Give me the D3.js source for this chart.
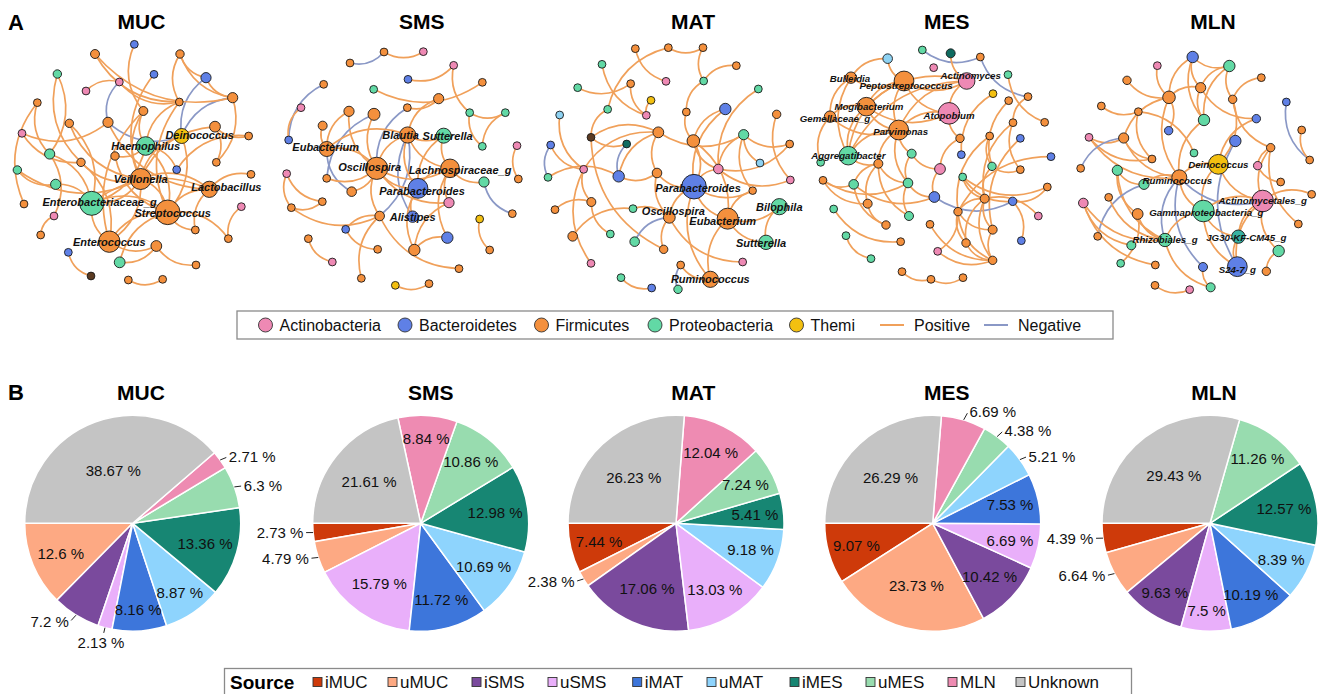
<!DOCTYPE html>
<html>
<head>
<meta charset="utf-8">
<script src="https://cdn.jsdelivr.net/npm/d3@7"></script>
<style>
  body { margin: 0; background: #fff; }
  svg { display: block; }
  text { font-family: "Liberation Sans", Arial, Helvetica, sans-serif; }
</style>
</head>
<body>
<svg id="fig" width="1320" height="694"></svg>
<script>
// ---------------- Panel A data: co-occurrence networks ----------------
// node: [layoutX, layoutY, phylum code, degree, label]
// layout units: 0..810 horizontally, 0..900 vertically within each panel
const mucNodes = [
  [403,133,"B",1],[285,162,"F",2],[540,162,"F",1.5],[172,222,"P",1.5],[462,223,"B",1],
  [618,233,"B",3],[358,246,"A",1],[258,273,"A",1],[698,293,"F",3],[112,308,"F",1],
  [538,306,"F",1],[430,333,"F",2],[324,367,"F",3],[208,370,"F",1.5],[645,380,"F",3.5],
  [66,400,"A",1],[545,408,"T",7,"Deinococcus"],[746,408,"F",1],[437,438,"P",10,"Haemophilus"],[149,462,"P",3],
  [345,468,"F",1.5],[243,487,"F",1.5],[649,487,"F",1],[52,510,"P",1.5],[530,509,"B",1],
  [422,537,"F",12,"Veillonella"],[753,523,"F",1],[167,553,"P",3],[628,568,"F",8,"Lactobacillus"],[275,610,"P",14.5,"Enterobacteriaceae_g"],
  [72,612,"F",1],[724,620,"A",1],[503,637,"F",15,"Streptococcus"],[162,648,"A",1],[586,690,"F",1],
  [122,705,"F",1],[685,716,"F",1],[328,725,"F",12.3,"Enterococcus"],[469,738,"F",3.5],[205,757,"B",1],
  [359,787,"P",3.5],[588,795,"F",1],[273,828,"Te",1],[385,840,"F",1],[488,838,"F",1]
];
// edge: [node, node, sign]
const mucEdges = [
  [1,12,1],[2,11,1],[3,9,1],[3,6,1],[6,9,1],[6,17,-1],[9,17,-1],[7,8,1],[7,13,-1],[7,11,1],
  [13,17,-1],[4,22,1],[10,31,1],[16,13,1],[16,22,1],[24,28,1],[24,26,1],[14,26,1],[15,18,1],[15,26,1],
  [18,25,1],[23,9,1],[27,29,1],[32,37,1],[29,33,1],[29,26,1],[29,30,1],[29,35,1],[33,30,1],[33,26,1],
  [33,38,1],[33,19,1],[33,17,1],[33,41,1],[33,35,1],[30,26,1],[30,19,1],[30,38,1],[30,28,1],[30,20,1],
  [30,14,1],[38,26,1],[38,39,1],[38,22,1],[34,36,1],[34,20,1],[40,43,1],[44,45,1],[41,39,1],[39,42,1],
  [21,19,1],[21,33,1],[22,26,1],[12,26,1],[12,19,1],[12,38,1],[11,33,1],[11,19,1],[5,26,1],[20,4,1],
  [25,19,1],[37,33,1],[3,11,1],[2,9,1],[10,20,1],[13,29,1],[17,26,1],[23,15,1]
];

const smsNodes = [
  [372,156,"F",1],[490,155,"A",1],[270,189,"F",1],[581,196,"A",1],[444,238,"B",1],
  [191,253,"F",1],[667,247,"F",1],[341,268,"P",1],[536,296,"F",3],[123,323,"A",1],
  [442,323,"F",1],[267,334,"F",3],[342,343,"F",4.5],[629,338,"P",1],[736,338,"P",1],
  [188,377,"F",2],[443,405,"F",8,"Blautia"],[551,407,"P",7,"Sutterella"],[86,420,"B",1],[667,439,"P",1],
  [771,437,"A",1],[200,447,"F",7,"Eubacterium"],[350,505,"F",13,"Oscillospira"],[570,505,"F",10,"Lachnospiraceae_g"],[80,521,"A",1],
  [200,535,"F",1],[474,565,"B",11,"Parabacteroides"],[672,546,"P",3],[775,537,"F",1],[275,575,"F",2.5],
  [187,605,"F",1],[567,608,"A",3],[94,623,"F",1],[458,650,"B",4,"Alistipes"],[359,648,"F",2.5],
  [757,641,"F",1],[659,657,"T",1],[257,688,"B",1],[562,713,"B",4],[145,716,"F",1],
  [463,750,"F",4],[353,748,"F",1],[689,750,"F",1],[217,786,"A",1],[597,806,"F",1],
  [304,835,"F",1],[406,856,"T",1],[507,851,"F",1]
];
const smsEdges = [
  [3,1,-1],[1,2,1],[5,4,1],[4,14,1],[8,7,1],[11,9,1],[6,19,-1],[10,19,1],[14,15,1],[15,20,1],
  [14,20,1],[12,23,1],[13,26,-1],[11,23,-1],[17,34,-1],[35,17,-1],[22,30,-1],[9,17,1],[16,22,1],[17,18,1],
  [17,23,1],[17,24,1],[17,27,1],[17,22,1],[18,24,1],[18,27,1],[23,27,1],[23,24,1],[23,22,1],[23,32,1],
  [23,35,1],[24,27,1],[24,28,1],[24,32,1],[28,36,-1],[21,29,1],[25,33,1],[25,31,1],[33,31,1],[33,35,1],
  [38,42,1],[40,44,1],[35,45,1],[35,46,1],[32,41,1],[39,41,1],[27,41,1],[37,43,1],[47,48,1],[26,23,1],
  [27,34,1],[13,23,1],[12,22,1],[30,23,1],[35,38,1],[24,39,1]
];

const matNodes = [
  [316,146,"F",1],[415,143,"F",1],[519,143,"F",1],[216,193,"P",1],[619,197,"F",1],
  [302,251,"F",1],[408,244,"A",1],[521,243,"P",1],[143,263,"P",1],[685,267,"P",1],
  [363,301,"T",1],[233,328,"P",1],[349,346,"A",1],[469,336,"F",1],[586,327,"B",4],
  [89,345,"C",1],[740,343,"F",1.5],[385,397,"F",3.5],[183,412,"Te",1],[490,423,"F",5],
  [641,404,"P",3],[290,432,"V",1],[62,435,"B",1],[779,432,"F",1],[690,489,"C",1],
  [161,508,"A",1],[565,507,"A",2.5],[266,529,"B",4],[381,519,"F",2.5],[54,532,"P",1],
  [781,540,"A",1],[492,560,"B",15,"Parabacteroides"],[668,572,"F",0.8],[184,606,"F",2],[75,629,"F",1],
  [309,626,"P",1],[748,620,"P",8,"Bilophila"],[418,652,"F",4.3,"Oscillospira"],[593,656,"F",12,"Eubacterium"],[128,709,"F",2.5],
  [241,702,"P",1],[708,727,"P",6.5,"Sutterella"],[314,725,"P",2.5],[401,748,"F",1.5],[183,790,"A",1],
  [638,786,"A",1],[452,795,"F",1],[541,838,"F",8,"Ruminococcus"],[273,833,"P",1],[365,864,"B",1],
  [444,868,"P",1.5]
];
const matEdges = [
  [1,7,1],[2,3,1],[2,12,1],[3,8,1],[4,13,1],[9,6,1],[5,8,1],[8,14,1],[10,27,1],[11,13,1],
  [14,20,1],[15,20,1],[15,32,1],[16,26,1],[17,31,1],[18,19,1],[18,28,1],[18,29,1],[18,21,1],[18,26,1],
  [19,22,1],[19,44,1],[21,27,1],[21,24,1],[21,33,1],[21,25,1],[22,28,-1],[23,30,-1],[23,26,1],[28,29,1],
  [28,30,1],[27,32,1],[27,24,1],[29,32,1],[29,38,1],[32,39,1],[32,38,1],[32,20,1],[32,48,1],[38,43,-1],
  [47,51,-1],[38,36,1],[38,44,1],[38,46,1],[39,37,1],[39,42,1],[39,48,1],[39,20,1],[37,42,1],[34,35,1],
  [36,40,1],[49,50,1],[47,48,1],[26,34,1],[26,45,1],[12,19,1],[6,13,1],[20,27,1],[32,33,1],[27,31,1],
  [34,41,1],[33,39,1]
];

const mesNodes = [
  [397,150,"P",1],[482,160,"V",2],[571,171,"F",1],[293,176,"C",2.5],[431,203,"A",1],
  [183,233,"F",4,"Bulleidia"],[342,243,"F",11,"Peptostreptococcus"],[530,243,"A",8.3,"Actinomyces"],[654,224,"P",1],[609,281,"T",1],
  [714,290,"F",1],[656,302,"F",1],[229,320,"F",10,"Mogibacterium"],[120,350,"F",4,"Gemellaceae_g"],[477,340,"A",12.5,"Atopobium"],
  [326,390,"F",11,"Parvimonas"],[669,368,"F",1],[764,367,"F",1],[510,415,"F",1.5],[599,408,"F",1],
  [691,415,"B",1],[175,467,"P",10,"Aggregatibacter"],[365,461,"P",2],[514,464,"B",1],[783,470,"B",1],
  [92,487,"P",1],[265,491,"F",2],[450,507,"A",3.5],[606,499,"P",1.5],[691,509,"F",1],
  [518,531,"P",1],[99,541,"F",1],[191,553,"P",2.5],[354,549,"P",2.5],[772,561,"F",1],
  [433,591,"B",3.5],[584,596,"F",2],[233,611,"F",2],[668,604,"B",1.5],[131,627,"P",1],
  [504,635,"F",1.5],[357,648,"P",2],[745,648,"A",1],[288,675,"F",1.5],[420,673,"F",1],
  [608,689,"F",2],[168,707,"P",1],[332,725,"F",1],[528,729,"F",1.5],[694,722,"B",1],
  [443,754,"A",1],[243,776,"P",1],[608,781,"F",1.5],[336,815,"F",1],[423,838,"F",1],
  [519,833,"F",1]
];
const mesEdges = [
  [1,3,-1],[3,11,-1],[2,8,1],[4,6,1],[4,7,1],[6,14,1],[6,22,1],[6,7,1],[7,8,1],[7,13,1],
  [7,16,1],[7,15,1],[7,22,1],[8,13,1],[8,16,1],[8,15,1],[8,22,1],[13,16,1],[13,15,1],[13,14,1],
  [13,22,1],[14,16,1],[14,26,1],[15,16,1],[15,19,1],[16,22,1],[16,27,1],[16,23,1],[16,34,1],[9,18,1],
  [10,24,1],[12,29,1],[17,37,1],[17,30,1],[20,29,1],[20,41,1],[21,46,1],[23,28,1],[23,34,1],[25,41,1],
  [27,33,1],[27,38,1],[27,34,1],[27,42,1],[28,36,1],[29,30,1],[29,37,1],[31,39,1],[31,35,1],[32,33,1],
  [32,34,1],[32,38,1],[33,36,1],[33,44,1],[34,36,1],[34,42,1],[36,39,-1],[37,41,1],[37,46,1],[37,49,1],
  [37,53,1],[41,46,1],[41,53,1],[41,49,1],[45,53,1],[46,53,1],[49,53,1],[51,53,1],[54,55,1],[55,56,1],
  [38,44,1],[47,52,1],[40,48,1],[39,35,1],[43,37,1],[19,28,1],[22,27,1],[31,37,1],[11,17,1],[51,41,1],
  [50,39,1]
];

const mlnNodes = [
  [428,171,"B",4],[538,198,"P",4],[322,197,"A",1],[634,233,"F",1],[231,241,"F",1.5],
  [452,263,"F",3],[357,292,"F",5],[548,298,"F",1.5],[154,318,"F",1],[709,306,"B",1],
  [265,335,"F",1],[619,356,"B",1.5],[462,360,"P",4],[356,392,"B",1.5],[755,390,"F",1],
  [117,412,"A",1],[221,414,"F",3],[556,423,"B",4],[662,443,"F",1.5],[432,459,"P",1],
  [306,477,"F",1],[505,493,"T",11,"Deinococcus"],[623,497,"A",1.5],[779,480,"F",1],[92,505,"F",1],
  [202,511,"P",3],[388,532,"F",7,"Ruminococcus"],[692,546,"F",1],[282,553,"P",3],[176,592,"F",1],
  [785,583,"F",1],[100,609,"A",2.5],[638,603,"A",12.5,"Actinomycetales_g"],[263,642,"F",3.5],[460,633,"P",12.5,"Gammaproteobacteria_g"],
  [745,672,"F",1],[143,709,"F",1],[565,710,"Ch",5.6,"JG30-KF-CM45_g"],[244,736,"P",2],[345,720,"P",5.6,"Rhizobiales_g"],
  [686,753,"P",4],[212,790,"P",1],[562,800,"B",11,"S24-7_g"],[316,795,"F",1],[459,801,"B",2],
  [649,814,"F",1.5],[315,856,"F",1],[419,869,"A",1],[482,862,"P",2]
];
const mlnEdges = [
  [1,2,1],[1,6,1],[1,7,1],[1,13,1],[2,6,1],[2,8,1],[2,13,1],[3,7,1],[4,8,1],[5,7,1],
  [6,7,1],[6,12,1],[6,13,1],[7,17,1],[7,27,1],[8,19,1],[9,11,1],[11,21,1],[10,24,-1],[15,24,1],
  [16,17,1],[16,21,1],[16,27,1],[17,21,1],[17,27,1],[17,25,-1],[18,43,-1],[19,23,1],[19,36,1],[19,33,1],
  [20,11,1],[22,27,1],[22,35,1],[22,33,1],[23,28,1],[26,40,1],[26,34,1],[27,29,1],[27,35,1],[27,40,-1],
  [27,45,-1],[27,33,-1],[29,37,-1],[31,33,1],[32,40,1],[32,39,1],[32,44,1],[33,35,1],[33,38,1],[33,43,1],
  [35,38,1],[35,43,1],[35,40,1],[38,43,1],[41,46,1],[42,34,1],[47,48,1],[45,49,1],[40,49,1],[22,8,1],
  [13,27,1],[34,40,1],[30,40,1],[14,7,1],[12,22,1],[33,41,1],[26,29,1]
];

const networkSites = ["MUC","SMS","MAT","MES","MLN"];
const networkNodes = [mucNodes, smsNodes, matNodes, mesNodes, mlnNodes];
const networkEdges = [mucEdges, smsEdges, matEdges, mesEdges, mlnEdges];

const phylumLegend = ["Actinobacteria","Bacteroidetes","Firmicutes","Proteobacteria","Themi"];
const phylumCode = {A:"Actinobacteria", B:"Bacteroidetes", F:"Firmicutes", P:"Proteobacteria", T:"Themi",
                    Te:"Tenericutes", V:"Verrucomicrobia", C:"Cyanobacteria", Ch:"Chloroflexi"};

// ---------------- Panel B data: source composition ----------------
const sources = ["iMUC","uMUC","iSMS","uSMS","iMAT","uMAT","iMES","uMES","MLN","Unknown"];
const pieSites = ["MUC","SMS","MAT","MES","MLN"];
const mucShares = [0, 12.6, 7.2, 2.13, 8.16, 8.87, 13.36, 6.3, 2.71, 38.67];
const smsShares = [2.73, 4.79, 0, 15.79, 11.72, 10.69, 12.98, 10.86, 8.84, 21.61];
const matShares = [7.44, 2.38, 17.06, 13.03, 0, 9.18, 5.41, 7.24, 12.04, 26.23];
const mesShares = [9.07, 23.73, 10.42, 6.69, 7.53, 5.21, 0, 4.38, 6.69, 26.29];
const mlnShares = [4.39, 6.64, 9.63, 7.5, 10.19, 8.39, 12.57, 11.26, 0, 29.43];
const pieShares = [mucShares, smsShares, matShares, mesShares, mlnShares];

// ---------------- styling ----------------
const phylumColor = {
  Actinobacteria:"#EE89B4", Bacteroidetes:"#5F80E6", Firmicutes:"#F4903D", Proteobacteria:"#62D9A5",
  Themi:"#F3C010", Tenericutes:"#5C3B22", Verrucomicrobia:"#0F6B60", Cyanobacteria:"#8ED2F2", Chloroflexi:"#38B2A2"
};
const edgeColor = {pos:"#F0A05A", neg:"#8A98C6"};
const sourceColor = d3.scaleOrdinal().domain(sources).range(
  ["#CE3A0A","#FDA983","#7A4A9D","#E9AFFA","#3D76DB","#8ED4FD","#178673","#98DCAF","#EE8BB2","#C4C4C4"]);

// small label shifts so neighbouring taxon names stay readable (pixels)
const labelNudge = {
  "MUC/Deinococcus":[18,-1], "MUC/Lactobacillus":[17,-2.5], "MUC/Enterobacteriaceae_g":[8,-1.5], "MUC/Streptococcus":[5,0.5],
  "SMS/Blautia":[-7,0], "SMS/Sutterella":[4,0], "SMS/Oscillospira":[-7,-1], "SMS/Lachnospiraceae_g":[10,1.5],
  "SMS/Parabacteroides":[4,2.5], "SMS/Eubacterium":[-1,-2],
  "MAT/Parabacteroides":[4,1.5], "MAT/Oscillospira":[4,-6.5], "MAT/Eubacterium":[-5,2], "MAT/Sutterella":[-5,1],
  "MES/Peptostreptococcus":[2,5], "MES/Actinomyces":[4,-5], "MES/Gemellaceae_g":[5,2], "MES/Mogibacterium":[2.5,0],
  "MES/Parvimonas":[2,2], "MES/Atopobium":[0,2], "MES/Bulleidia":[-1,1],
  "MLN/JG30-KF-CM45_g":[8,0.5], "MLN/Ruminococcus":[-2,3.5], "MLN/Gammaproteobacteria_g":[3,2], "MLN/S24-7_g":[0,2.5]
};

// labels drawn outside the pie (small or steep slices)
const outsideLabels = {
  MUC:["MLN","uMES","iSMS","uSMS"], SMS:["iMUC","uMUC"], MAT:["uMUC"],
  MES:["MLN","uMES","uMAT"], MLN:["iMUC","uMUC"]
};

const svg = d3.select("#fig");

// panel letters
svg.append("text").attr("x", 8).attr("y", 30).attr("font-size", 22).attr("font-weight", "bold").text("A");
svg.append("text").attr("x", 8).attr("y", 400).attr("font-size", 22).attr("font-weight", "bold").text("B");

// ---------------- networks ----------------
const panelX0 = [0, 260, 530, 790, 1050];
const netTitleX = [141.5, 421.7, 693, 946.7, 1213];
const netLabelSize = [11, 11, 11, 9.7, 9.7];
const radius = d3.scaleLinear().domain([0, 15]).range([3.3, 12.3]);

function arcPath(s, t) {
  const mx = (s.x + t.x) / 2, my = (s.y + t.y) / 2;
  const dx = t.x - s.x, dy = t.y - s.y, k = 0.3;
  return `M${s.x},${s.y}Q${mx - dy * k},${my + dx * k} ${t.x},${t.y}`;
}

networkSites.forEach((site, p) => {
  const x = d3.scaleLinear().domain([0, 810]).range([panelX0[p], panelX0[p] + 270]);
  const y = d3.scaleLinear().domain([0, 900]).range([0, 300]);
  const nodes = networkNodes[p].map(d => ({
    x: x(d[0]), y: y(d[1]), phylum: phylumCode[d[2]], deg: d[3], label: d[4] || null
  }));
  const links = networkEdges[p].map(e => ({s: nodes[e[0] - 1], t: nodes[e[1] - 1], sign: e[2]}));
  const g = svg.append("g");

  svg.append("text").attr("x", netTitleX[p]).attr("y", 28.5).attr("text-anchor", "middle")
    .attr("font-size", 21).attr("font-weight", "bold").text(site);

  g.append("g").selectAll("path").data(links).join("path")
    .attr("d", l => arcPath(l.s, l.t))
    .attr("fill", "none")
    .attr("stroke", l => l.sign > 0 ? edgeColor.pos : edgeColor.neg)
    .attr("stroke-width", 1.7);

  g.append("g").selectAll("circle").data(nodes).join("circle")
    .attr("cx", d => d.x).attr("cy", d => d.y).attr("r", d => radius(d.deg))
    .attr("fill", d => phylumColor[d.phylum])
    .attr("stroke", "#1a1a1a").attr("stroke-width", 0.9);

  const nudge = d => labelNudge[site + "/" + d.label] || [0, 0];
  g.append("g").selectAll("text").data(nodes.filter(d => d.label)).join("text")
    .attr("x", d => d.x + nudge(d)[0]).attr("y", d => d.y + nudge(d)[1]).attr("dy", "0.35em")
    .attr("text-anchor", "middle")
    .attr("font-size", netLabelSize[p]).attr("font-weight", "bold").attr("font-style", "italic")
    .attr("fill", "#111").text(d => d.label);
});

// phylum / edge legend
const legA = svg.append("g");
legA.append("rect").attr("x", 237).attr("y", 311).attr("width", 876).attr("height", 28)
  .attr("fill", "#fff").attr("stroke", "#8a8a8a").attr("stroke-width", 1.3);
const legAX = [265.5, 405, 541.5, 655, 796.5];
phylumLegend.forEach((ph, i) => {
  legA.append("circle").attr("cx", legAX[i]).attr("cy", 325).attr("r", 7)
    .attr("fill", phylumColor[ph]).attr("stroke", "#333").attr("stroke-width", 0.9);
  legA.append("text").attr("x", legAX[i] + 14).attr("y", 325).attr("dy", "0.35em")
    .attr("font-size", 16).attr("fill", "#111").text(ph);
});
[["Positive", edgeColor.pos, 880], ["Negative", edgeColor.neg, 984]].forEach(([name, col, lx]) => {
  legA.append("line").attr("x1", lx).attr("x2", lx + 24).attr("y1", 325).attr("y2", 325)
    .attr("stroke", col).attr("stroke-width", 2);
  legA.append("text").attr("x", lx + 34).attr("y", 325).attr("dy", "0.35em")
    .attr("font-size", 16).attr("fill", "#111").text(name);
});

// ---------------- pies ----------------
const pieCX = [132.7, 420.7, 676, 932.7, 1210];
const pieCY = 523.3, R = 108;
const pieTitleX = [141, 430.7, 693.3, 946.7, 1214];
const pie = d3.pie().sort(null).value(d => d.v).startAngle(1.5 * Math.PI).endAngle(-0.5 * Math.PI);
const arc = d3.arc().innerRadius(0).outerRadius(R);
const FS = 15;

pieSites.forEach((site, p) => {
  const cx = pieCX[p];
  const g = svg.append("g").attr("transform", `translate(${cx},${pieCY})`);
  svg.append("text").attr("x", pieTitleX[p]).attr("y", 400).attr("text-anchor", "middle")
    .attr("font-size", 21).attr("font-weight", "bold").text(site);

  const data = sources.map((s, i) => ({src: s, v: pieShares[p][i]}));
  const arcs = pie(data).filter(a => a.data.v > 0);

  g.selectAll("path").data(arcs).join("path")
    .attr("d", arc).attr("fill", a => sourceColor(a.data.src))
    .attr("stroke", "#fff").attr("stroke-width", 1.5);

  const placed = [];
  arcs.forEach(a => {
    const label = a.data.v + " %";
    const t = g.append("text").attr("font-size", FS).attr("fill", "#111")
      .attr("text-anchor", "middle").attr("dy", "0.35em").text(label);
    const w = t.node().getComputedTextLength();
    const mid = (a.startAngle + a.endAngle) / 2;
    const ux = Math.sin(mid), uy = -Math.cos(mid);
    if (outsideLabels[site].includes(a.data.src)) {
      const px = R * ux, py = R * uy, h = 17;
      let dx = w / 2, dy = h / 2;
      if (px < 0) dx = -dx;
      if (py < 0) dy = -dy;
      const lx = px + dx + Math.abs(dy) * Math.sign(dx) / 2 + Math.sign(dx) * 5.5 * Math.abs(ux);
      const ly = py + dy / (1 + (px * px) / (py * py));
      placed.push({t, w, h, lx, ly, px, py});
    } else {
      const half = Math.abs(a.endAngle - a.startAngle) / 2;
      const sh = Math.sin(Math.min(half, Math.PI / 2));
      let f = 1 - Math.min(sh / (1 + sh), 0.5);
      const hw = w / 2 + 1, hh = 7.5;
      const fits = ff => {
        const X = ff * R * ux, Y = ff * R * uy;
        return [[-1,-1],[1,-1],[1,1],[-1,1]].every(([sx, sy]) =>
          Math.hypot(X + sx * hw, Y + sy * hh) <= R - 3);
      };
      while (f > 0.3 && !fits(f)) f -= 0.005;
      t.attr("x", f * R * ux).attr("y", f * R * uy);
    }
  });

  // keep neighbouring outside labels apart: push the later one outward and
  // let it slide back under its own slice edge
  placed.sort((a, b) => Math.abs(a.ly) - Math.abs(b.ly));
  for (let i = 1; i < placed.length; i++) {
    const c = placed[i];
    for (let j = 0; j < i; j++) {
      const o = placed[j];
      const overlapX = Math.abs(c.lx - o.lx) < (c.w + o.w) / 2;
      const gap = Math.abs(c.ly - o.ly);
      if (overlapX && gap < (c.h + o.h) / 2 && Math.sign(c.ly) === Math.sign(o.ly)) {
        c.ly = o.ly + Math.sign(c.ly || 1) * ((c.h + o.h) / 2 + 4);
        c.lx = c.px + Math.sign(c.lx - c.px) * 4;
        c.shifted = true;
      }
    }
  }
  placed.forEach(o => {
    o.t.attr("x", o.lx).attr("y", o.ly);
    let endX, endY;
    if (o.shifted) {
      endX = o.px + (o.lx - o.px) * 0.3;
      endY = o.ly - Math.sign(o.ly) * (o.h / 2 + 1);
    } else {
      const nearX = o.lx - Math.sign(o.lx - o.px) * (o.w / 2 + 1.5);
      endX = o.px + (nearX - o.px) * 0.85;
      endY = o.py + (o.ly - o.py) * 0.85;
    }
    g.append("line").attr("x1", o.px).attr("y1", o.py).attr("x2", endX).attr("y2", endY)
      .attr("stroke", "#222").attr("stroke-width", 1);
  });
});

// source legend
const legB = svg.append("g");
legB.append("rect").attr("x", 224.5).attr("y", 668.5).attr("width", 907).attr("height", 40)
  .attr("fill", "#fff").attr("stroke", "#8a8a8a").attr("stroke-width", 1.3);
legB.append("text").attr("x", 230).attr("y", 682).attr("dy", "0.35em")
  .attr("font-size", 19).attr("font-weight", "bold").text("Source");
const legBX = [313, 388, 472, 548, 632.7, 707, 790, 866, 948, 1016];
sources.forEach((s, i) => {
  legB.append("rect").attr("x", legBX[i]).attr("y", 677.5).attr("width", 9).attr("height", 9)
    .attr("fill", sourceColor(s)).attr("stroke", "#333").attr("stroke-width", 0.9);
  legB.append("text").attr("x", legBX[i] + 12).attr("y", 682).attr("dy", "0.35em")
    .attr("font-size", 17).attr("fill", "#111").text(s);
});
</script>
</body>
</html>
